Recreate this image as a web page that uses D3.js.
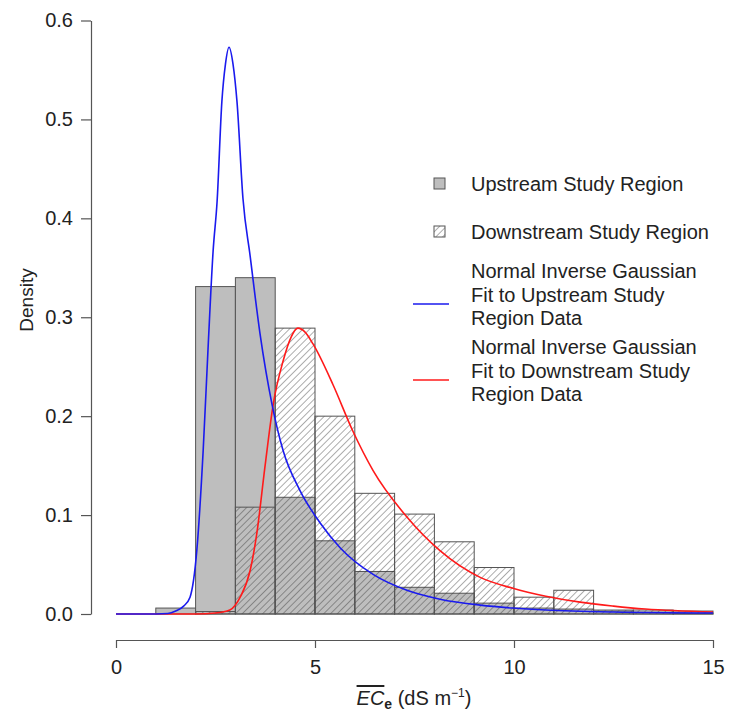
<!DOCTYPE html>
<html><head><meta charset="utf-8">
<script src="https://cdn.jsdelivr.net/npm/d3@7"></script>
<style>body{margin:0;background:#fff}svg{display:block}text{font-family:"Liberation Sans",Arial,sans-serif;fill:#222}</style>
</head><body><svg id="c" width="730" height="718"></svg>
<script>
// Histogram bins (left edges, width 1)
const binStarts = [1,2,3,4,5,6,7,8,9,10,11,12,13,14];
const upstreamDensity = [0.006,0.331,0.340,0.118,0.074,0.043,0.027,0.021,0.011,0.006,0.005,0.003,0.002,0.001];
const downstreamDensity = [0,0.0025,0.108,0.289,0.200,0.122,0.101,0.073,0.047,0.017,0.024,0.004,0.004,0.003];
// Fitted NIG curves
const upX = [0,1.0,1.3,1.5,1.7,1.86,2.03,2.19,2.31,2.44,2.54,2.66,2.75,2.84,2.94,3.04,3.19,3.37,3.62,3.92,4.2,4.62,5.13,5.63,6.46,7.31,8.14,9.15,9.97,10.8,12.5,15];
const upY = [0,0,0.0005,0.003,0.008,0.017,0.064,0.165,0.266,0.367,0.417,0.518,0.556,0.573,0.556,0.518,0.42,0.362,0.283,0.212,0.165,0.125,0.092,0.067,0.040,0.024,0.015,0.009,0.006,0.004,0.002,0.001];
const dnX = [0,2.0,2.5,2.86,3.12,3.37,3.54,3.74,3.95,4.2,4.4,4.57,4.75,4.95,5.45,5.95,6.46,7.31,8.14,9.15,9.97,10.8,11.66,12.5,13.3,15];
const dnY = [0,0,0.001,0.004,0.017,0.044,0.082,0.148,0.212,0.256,0.280,0.289,0.285,0.273,0.232,0.185,0.145,0.098,0.064,0.037,0.026,0.018,0.012,0.008,0.005,0.002];
const yTicks = [0,0.1,0.2,0.3,0.4,0.5,0.6];
const xTicks = [0,5,10,15];
const legendLabels = ["Upstream Study Region","Downstream Study Region",
  ["Normal Inverse Gaussian","Fit to Upstream Study","Region Data"],
  ["Normal Inverse Gaussian","Fit to Downstream Study","Region Data"]];

const svg = d3.select("#c");
const x = d3.scaleLinear().domain([0,15]).range([116,713]);
const y = d3.scaleLinear().domain([0,0.6]).range([614,20.5]);
const FS = 20;

const defs = svg.append("defs");
const pat = defs.append("pattern").attr("id","hatch").attr("patternUnits","userSpaceOnUse")
  .attr("width",4.8).attr("height",4.8).attr("patternTransform","rotate(45)");
pat.append("line").attr("x1",0).attr("y1",0).attr("x2",0).attr("y2",4.8)
  .attr("stroke","#333").attr("stroke-width",0.8);

const bw = x(1)-x(0);
// Upstream bars
svg.append("g").selectAll("rect").data(binStarts).join("rect")
  .attr("x",(d)=>x(d)).attr("width",bw)
  .attr("y",(d,i)=>y(upstreamDensity[i])).attr("height",(d,i)=>y(0)-y(upstreamDensity[i]))
  .attr("fill","#bebebe").attr("stroke","#555").attr("stroke-width",1);
// Downstream bars (hatched)
svg.append("g").selectAll("rect").data(binStarts.filter((d,i)=>downstreamDensity[i]>0)).join("rect")
  .attr("x",(d)=>x(d)).attr("width",bw)
  .attr("y",(d)=>y(downstreamDensity[binStarts.indexOf(d)])).attr("height",(d)=>y(0)-y(downstreamDensity[binStarts.indexOf(d)]))
  .attr("fill","url(#hatch)").attr("stroke","#555").attr("stroke-width",1);

const line = d3.line().x(d=>x(d[0])).y(d=>y(d[1])).curve(d3.curveMonotoneX);
svg.append("path").datum(dnX.map((v,i)=>[v,dnY[i]])).attr("d",line)
  .attr("fill","none").attr("stroke","#ff1a1a").attr("stroke-width",1.6);
svg.append("path").datum(upX.map((v,i)=>[v,upY[i]])).attr("d",line)
  .attr("fill","none").attr("stroke","#1a1aee").attr("stroke-width",1.6);

// Axes
const ya = svg.append("g").attr("transform","translate(91,0)")
  .call(d3.axisLeft(y).tickValues(yTicks).tickFormat(d3.format(".1f")).tickSize(10).tickSizeOuter(0).tickPadding(8));
const xa = svg.append("g").attr("transform","translate(0,640)")
  .call(d3.axisBottom(x).tickValues(xTicks).tickSize(8).tickSizeOuter(0).tickPadding(12));
[ya,xa].forEach(a=>{
  a.selectAll("path,line").attr("stroke","#555").attr("stroke-width",1.2);
  a.selectAll("text").attr("font-size",FS).attr("font-family","Liberation Sans, Arial, sans-serif").attr("fill","#222");
});

svg.append("text").attr("transform","translate(33,300) rotate(-90)").attr("text-anchor","middle")
  .attr("font-size",FS-1).text("Density");

// X title: EC (overline) subscript e (dS m^-1)
const xt = svg.append("text").attr("x",414).attr("y",705).attr("text-anchor","middle").attr("font-size",FS);
xt.append("tspan").attr("font-style","italic").attr("text-decoration","overline").text("EC");
xt.append("tspan").attr("font-size",FS*0.7).attr("dy",4).attr("font-weight","bold").text("e");
xt.append("tspan").attr("dy",-4).text(" (dS m");
xt.append("tspan").attr("font-size",FS*0.6).attr("dy",-8).text("−1");
xt.append("tspan").attr("dy",8).text(")");

// Legend
const lg = svg.append("g");
lg.append("rect").attr("x",434).attr("y",178).attr("width",11).attr("height",11)
  .attr("fill","#bebebe").attr("stroke","#555");
lg.append("rect").attr("x",434).attr("y",226).attr("width",11).attr("height",11)
  .attr("fill","url(#hatch)").attr("stroke","#555");
lg.append("text").attr("x",471).attr("y",191).attr("font-size",FS).text(legendLabels[0]);
lg.append("text").attr("x",471).attr("y",239).attr("font-size",FS).text(legendLabels[1]);
lg.append("line").attr("x1",413).attr("x2",449).attr("y1",304).attr("y2",304).attr("stroke","#1a1aee").attr("stroke-width",1.6);
lg.append("line").attr("x1",413).attr("x2",449).attr("y1",380).attr("y2",380).attr("stroke","#ff1a1a").attr("stroke-width",1.6);
legendLabels[2].forEach((t,i)=>lg.append("text").attr("x",471).attr("y",278+i*23.5).attr("font-size",FS).text(t));
legendLabels[3].forEach((t,i)=>lg.append("text").attr("x",471).attr("y",354+i*23.5).attr("font-size",FS).text(t));
</script></body></html>
